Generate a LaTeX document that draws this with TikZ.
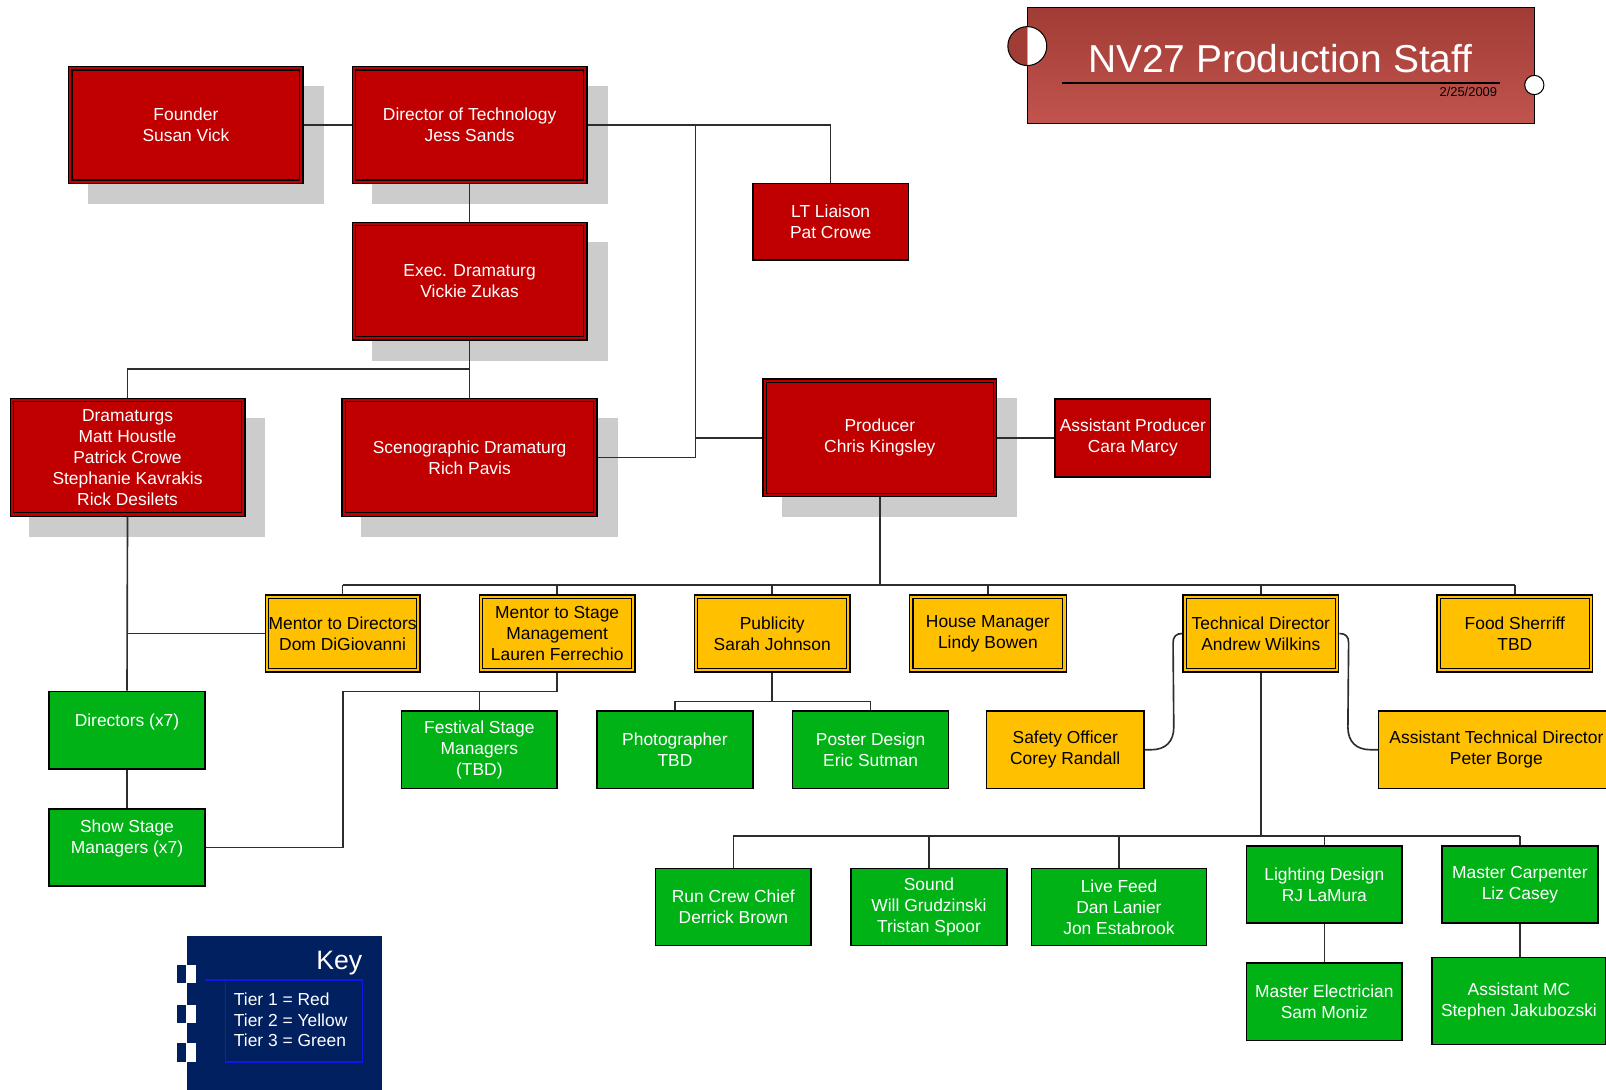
\documentclass[tikz,border=0pt]{standalone}
\usepackage{fontspec}
\setmainfont{Liberation Sans}
\usetikzlibrary{calc}
\pgfdeclarelayer{shadowl}
\pgfdeclarelayer{edgel}
\pgfsetlayers{shadowl,edgel,main}
\definecolor{tred}{RGB}{192,0,0}
\definecolor{tyel}{RGB}{255,192,0}
\definecolor{tgrn}{RGB}{0,178,22}
\definecolor{shad}{RGB}{204,204,204}
\definecolor{navy}{RGB}{0,32,96}
\definecolor{ttop}{RGB}{160,60,52}
\definecolor{tbot}{RGB}{194,84,78}
\definecolor{keyblue}{RGB}{20,20,230}
\definecolor{lineg}{RGB}{45,45,45}
\begin{document}
\begin{tikzpicture}[x=0.5pt,y=-0.5pt,
  box/.style={draw=black, line width=0.7pt, inner sep=0pt, align=center, font=\fontsize{8.5}{10.25}\selectfont},
  rb/.style={box, fill=tred, text=white},
  yb/.style={box, fill=tyel, text=black},
  gb/.style={box, fill=tgrn, text=white},
  sz/.style 2 args={minimum width=#1*0.5pt, minimum height=#2*0.5pt},
  conn/.style={draw=lineg, line width=0.8pt}]
\useasboundingbox (0,0) rectangle (1568,1064);
\clip (0,0) rectangle (1568,1064);

% ---- red tier
\node[rb, sz={229}{114}] (founder) at (181.5,122) {Founder\\Susan Vick};
\node[rb, sz={229}{114}] (dot) at (458.5,122) {Director of Technology\\Jess Sands};
\node[rb, sz={152}{75}] (lt) at (811,216.5) {LT Liaison\\Pat Crowe};
\node[rb, sz={229}{115}] (exec) at (458.5,274.5) {Exec. Dramaturg\\Vickie Zukas};
\node[rb, sz={229}{115}] (dram) at (124.5,446.5) {Dramaturgs\\Matt Houstle\\Patrick Crowe\\Stephanie Kavrakis\\Rick Desilets};
\node[rb, sz={249}{115}] (sceno) at (458.5,446.5) {Scenographic Dramaturg\\Rich Pavis};
\node[rb, sz={228}{115}] (prod) at (859,427.5) {Producer\\Chris Kingsley};
\node[rb, sz={152}{76}] (ap) at (1106,427.5) {Assistant Producer\\Cara Marcy};

% ---- yellow tier
\node[yb, sz={151}{75}] (mdir) at (334.5,618.5) {Mentor to Directors\\Dom DiGiovanni};
\node[yb, sz={152}{75}] (msm) at (544,618.5) {Mentor to Stage\\Management\\Lauren Ferrechio};
\node[yb, sz={152}{75}] (pub) at (754,618.5) {Publicity\\Sarah Johnson};
\node[yb, sz={153}{75}] (hm) at (964.5,618.5) {House Manager\\Lindy Bowen};
\node[yb, sz={152}{75}] (td) at (1231,618.5) {Technical Director\\Andrew Wilkins};
\node[yb, sz={152}{75}] (food) at (1479,618.5) {Food Sherriff\\TBD};
\node[yb, sz={154}{76}] (safety) at (1040,732) {Safety Officer\\Corey Randall};
\node[yb, sz={230}{76}] (atd) at (1461,732) {Assistant Technical Director\\Peter Borge};

% ---- green tier
\node[gb, sz={152}{76}] (dirs) at (124,713) {Directors (x7)\\\phantom{X}};
\node[gb, sz={152}{75}] (ssm) at (124,827.5) {Show Stage\\Managers (x7)\\\phantom{X}};
\node[gb, sz={152}{76}] (fsm) at (468,732) {Festival Stage\\Managers\\(TBD)};
\node[gb, sz={152}{76}] (photo) at (659,732) {Photographer\\TBD};
\node[gb, sz={152}{76}] (poster) at (850,732) {Poster Design\\Eric Sutman};
\node[gb, sz={152}{75}] (rcc) at (716,885.5) {Run Crew Chief\\Derrick Brown};
\node[gb, sz={152}{75}] (sound) at (907,885.5) {Sound\\Will Grudzinski\\Tristan Spoor};
\node[gb, sz={171}{75}] (live) at (1092.5,885.5) {Live Feed\\Dan Lanier\\Jon Estabrook};
\node[gb, sz={152}{75}] (light) at (1293,863.5) {Lighting Design\\RJ LaMura};
\node[gb, sz={152}{75}] (mcarp) at (1484,863.5) {Master Carpenter\\Liz Casey};
\node[gb, sz={152}{76}] (melec) at (1293,978) {Master Electrician\\Sam Moniz};
\node[gb, sz={170}{85}] (amc) at (1483,977.5) {Assistant MC\\Stephen Jakubozski};

% ---- inner borders of double-framed boxes
\foreach \n in {founder,dot,exec,dram,sceno,prod,mdir,msm,pub,hm,td,food}
  \draw[line width=0.6pt] ([shift={(4,4)}]\n.north west) rectangle ([shift={(-4,-4)}]\n.south east);

% ---- shadows
\begin{pgfonlayer}{shadowl}
\foreach \n in {founder,dot,exec,dram,sceno,prod}
  \fill[shad] ([shift={(19.5,19.5)}]\n.north west) rectangle ([shift={(19.5,19.5)}]\n.south east);
\end{pgfonlayer}

% ---- connectors
\begin{pgfonlayer}{edgel}
\draw[conn] (founder.east) -- (dot.west);
\draw[conn] (dot.east) -| (lt.north);
\coordinate (v1) at (679,122);
\draw[conn] (v1) |- (sceno.east);
\draw[conn] (prod.west) -- (prod.west -| v1);
\draw[conn] (prod.east) -- (ap.west);
\draw[conn] (dot.south) -- (exec.north);
\coordinate (j1) at (458.5,360);
\draw[conn] (exec.south) -- (j1) -| (dram.north);
\draw[conn] (j1) -- (sceno.north);
\draw[conn] (dram.south) -- (dirs.north);
\draw[conn] (mdir.west) -- (mdir.west -| dram.south);
\draw[conn] (dirs.south) -- (ssm.north);
\coordinate (bus) at (859,571);
\draw[conn] (prod.south) -- (bus);
\draw[conn] (mdir.north |- bus) -- (food.north |- bus);
\foreach \n in {mdir,msm,pub,hm,td,food} \draw[conn] (\n.north |- bus) -- (\n.north);
\coordinate (j2) at (544,675);
\coordinate (j3) at (335,675);
\draw[conn] (msm.south) -- (j2) -- (j3) |- (ssm.east);
\draw[conn] (fsm.north) -- (fsm.north |- j2);
\coordinate (j4) at (754,685);
\draw[conn] (pub.south) -- (j4);
\draw[conn] (photo.north) |- (j4) -| (poster.north);
\draw[conn] (td.west) .. controls +(-6,0) and +(0,-6) .. ++(-9,9) -- (1146,710) .. controls +(0,14) and +(14,0) .. (1124,732) -- (safety.east);
\draw[conn] (td.east) .. controls +(6,0) and +(0,-6) .. ++(9,9) -- (1316,710) .. controls +(0,14) and +(-14,0) .. (1338,732) -- (atd.west);
\coordinate (bus2) at (1231,816);
\draw[conn] (td.south) -- (bus2);
\draw[conn] (rcc.north |- bus2) -- (mcarp.north |- bus2);
\foreach \n in {rcc,sound,live,light,mcarp} \draw[conn] (\n.north |- bus2) -- (\n.north);
\draw[conn] (light.south) -- (melec.north);
\draw[conn] (mcarp.south) -- (mcarp.south |- amc.north);
\end{pgfonlayer}

% ---- title banner
\node[draw=black, line width=0.5pt, top color=ttop, bottom color=tbot, inner sep=0pt, sz={495}{114}] (title) at (1250.5,64) {};
\coordinate (c1) at (1003,45);
\fill[ttop!95!tbot] ([yshift=9.5pt]c1) arc[start angle=90, end angle=270, radius=9.5pt] -- cycle;
\fill[white] ([yshift=9.5pt]c1) arc[start angle=90, end angle=-90, radius=9.5pt] -- cycle;
\draw[line width=0.5pt] (c1) circle[radius=9.5pt];
\coordinate (c2) at (1498,83);
\draw[fill=white, line width=0.5pt] (c2) circle[radius=4.7pt];
\node[text=white, inner sep=0pt, font=\fontsize{19}{22}\selectfont] (ttl) at (1250,57) {NV27 Production Staff};
\draw[line width=0.6pt] (1037,81) -- (1464,81);
\node[anchor=east, inner sep=0pt, font=\fontsize{6.3}{7}\selectfont] (date) at (1462,90) {2/25/2009};

% ---- key
\node[fill=navy, inner sep=0pt, anchor=north west, sz={191}{160}] (key) at (182,913) {};
\foreach \yy in {951,990,1027.5} {
  \fill[navy] (173,\yy-9) rectangle (182,\yy+9);
  \fill[white] (182,\yy-9) rectangle (191,\yy+9);
}
\draw[keyblue, line width=0.75pt] (200,957) -- (354,957) -- (354,1037) -- (220,1037) -- (220,957);
\node[anchor=east, text=white, inner sep=0pt, font=\fontsize{13}{15}\selectfont] (keyt) at (354,940) {Key};
\node[anchor=west, align=left, text=white, inner sep=0pt, font=\fontsize{8.5}{10}\selectfont] (tiers) at (228,996) {Tier 1 = Red\\Tier 2 = Yellow\\Tier 3 = Green};
\end{tikzpicture}
\end{document}
